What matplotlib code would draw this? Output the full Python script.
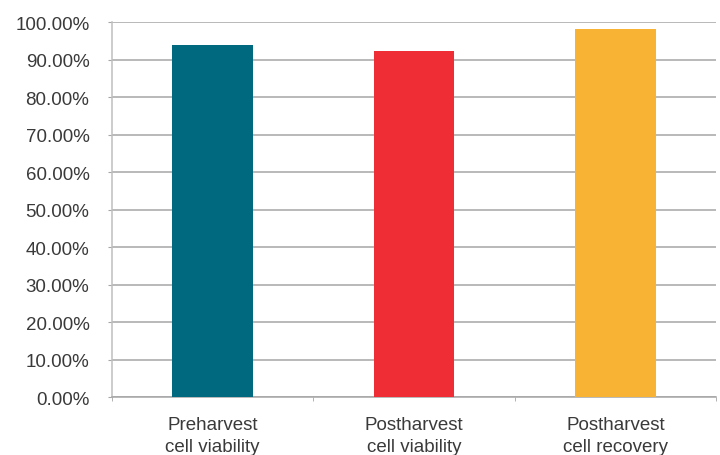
import matplotlib
matplotlib.use("Agg")
import matplotlib.pyplot as plt
from matplotlib.ticker import FuncFormatter, FixedLocator

categories = ["Preharvest\ncell viability", "Postharvest\ncell viability", "Postharvest\ncell recovery"]
values = [0.939, 0.925, 0.982]
colors = ["#00697F", "#EE2E34", "#F8B334"]
yticks = [i / 10 for i in range(11)]

plt.rcParams['font.family'] = ['Liberation Sans', 'DejaVu Sans']
fig = plt.figure(figsize=(7.2, 4.56), dpi=100)
ax = fig.add_axes([0.155, 0.1265, 0.8397, 0.822])

x = list(range(len(categories)))
ax.bar(x, values, width=0.40, color=colors, zorder=3)

ax.set_xlim(-0.5, 2.5)
ax.set_ylim(0, 1.0)
ax.set_yticks(yticks)
ax.yaxis.set_major_formatter(FuncFormatter(lambda v, p: f"{v*100:.2f}%"))
ax.grid(axis='y', color='#A6A6A6', linewidth=1.1, zorder=0)
ax.set_xticks(x)
ax.set_xticklabels(categories, linespacing=1.35)
ax.xaxis.set_minor_locator(FixedLocator([-0.5, 0.5, 1.5, 2.5]))

for s in ['top', 'right']:
    ax.spines[s].set_visible(False)
ax.spines['left'].set_color('#BFBFBF')
ax.spines['bottom'].set_color('#A6A6A6')
ax.spines['left'].set_linewidth(1.1)
ax.spines['bottom'].set_linewidth(1.1)

ax.tick_params(axis='y', length=3, color='#A6A6A6', pad=13, labelsize=13.5, labelcolor='#3a3a3a')
ax.tick_params(axis='x', which='major', length=0, pad=13.5, labelsize=13.5, labelcolor='#3a3a3a')
ax.tick_params(axis='x', which='minor', length=3, color='#A6A6A6')

fig.savefig("out.png", dpi=100, facecolor='white')
